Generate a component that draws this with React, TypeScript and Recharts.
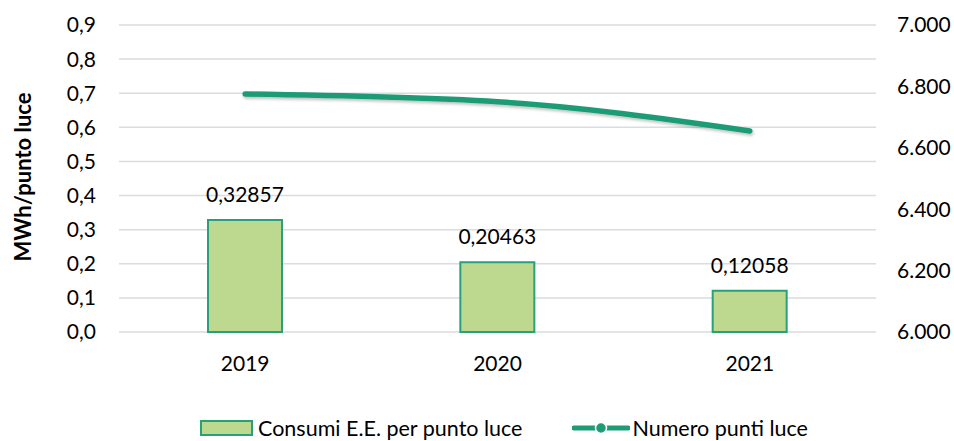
import React from 'react';
import {
  ComposedChart,
  Bar,
  Line,
  XAxis,
  YAxis,
  CartesianGrid,
  Legend,
  LabelList,
} from 'recharts';

const categories = ['2019', '2020', '2021'];
const consumiPerPunto = [0.32857, 0.20463, 0.12058];
const numeroPunti = [6775, 6750, 6655];
const leftTicks = [0, 0.1, 0.2, 0.3, 0.4, 0.5, 0.6, 0.7, 0.8, 0.9];
const rightTicks = [6000, 6200, 6400, 6600, 6800, 7000];

const data = categories.map((c, i) => ({
  year: c,
  consumi: consumiPerPunto[i],
  punti: numeroPunti[i],
}));

const FONT = 'Lato, "Open Sans", sans-serif';
const BAR_FILL = '#BDD98F';
const BAR_STROKE = '#2AA07A';
const LINE_COLOR = '#1F9C76';
const GRID = '#D9DCE0';
const FS = 21;

const fmtLeft = (v: number) => v.toFixed(1).replace('.', ',');
const fmtRight = (v: number) =>
  String(v).replace(/\B(?=(\d{3})+(?!\d))/g, '.');
const fmtLabel = (v: any) => String(v).replace('.', ',');

const LegendContent = () => (
  <div
    style={{
      height: 40,
      display: 'flex',
      alignItems: 'center',
      paddingTop: 14,
      boxSizing: 'border-box',
      paddingLeft: 200,
      fontFamily: FONT,
      fontSize: 21.5,
      color: '#000',
      lineHeight: '26px',
      whiteSpace: 'nowrap',
      overflow: 'visible',
    }}
  >
    <svg width={53} height={16} style={{ marginRight: 5, flexShrink: 0 }}>
      <rect x={1} y={1} width={51} height={14} fill={BAR_FILL} stroke={BAR_STROKE} strokeWidth={2} />
    </svg>
    <span>Consumi E.E. per punto luce</span>
    <svg width={58} height={16} style={{ marginLeft: 50, marginRight: 2, flexShrink: 0 }}>
      <line x1={2} y1={8} x2={56} y2={8} stroke={LINE_COLOR} strokeWidth={5} strokeLinecap="round" />
      <circle cx={29} cy={8} r={5.5} fill={LINE_COLOR} stroke="#fff" strokeWidth={1.5} />
    </svg>
    <span>Numero punti luce</span>
  </div>
);

const YLabel = () => (
  <text
    x={22}
    y={177}
    transform="rotate(-90, 22, 177)"
    textAnchor="middle"
    dominantBaseline="central"
    fontFamily={FONT}
    fontWeight="bold"
    fontSize={22}
    fill="#000"
  >
    MWh/punto luce
  </text>
);

export default function App() {
  return (
    <div style={{ position: 'absolute', left: 0, top: 0, background: '#fff' }}>
      <ComposedChart
        width={954}
        height={441}
        data={data}
        margin={{ top: 25, right: 0, bottom: 0, left: 0 }}
        barCategoryGap={0}
      >
        <defs>
          <filter id="lineShadow" x="-10%" y="-50%" width="120%" height="200%">
            <feDropShadow dx="1" dy="2" stdDeviation="1.5" floodColor="#000" floodOpacity="0.25" />
          </filter>
        </defs>
        <CartesianGrid yAxisId="left" vertical={false} stroke={GRID} strokeWidth={1.5} />
        <XAxis
          dataKey="year"
          axisLine={false}
          tickLine={false}
          tickSize={0}
          tickMargin={24}
          height={69}
          tick={{ fontFamily: FONT, fontSize: FS, fill: '#000' }}
        />
        <YAxis
          yAxisId="left"
          orientation="left"
          width={119}
          domain={[0, 0.9]}
          ticks={leftTicks}
          tickFormatter={fmtLeft}
          axisLine={false}
          tickLine={false}
          tickSize={0}
          tickMargin={23}
          interval={0}
          tick={{ fontFamily: FONT, fontSize: FS, fill: '#000' }}
          label={<YLabel />}
        />
        <YAxis
          yAxisId="right"
          orientation="right"
          width={78}
          domain={[6000, 7000]}
          ticks={rightTicks}
          tickFormatter={fmtRight}
          axisLine={false}
          tickLine={false}
          tickSize={0}
          tickMargin={21}
          interval={0}
          tick={{ fontFamily: FONT, fontSize: FS, fill: '#000', textAnchor: 'start' }}
        />
        <Bar
          yAxisId="left"
          dataKey="consumi"
          name="Consumi E.E. per punto luce"
          barSize={74}
          fill={BAR_FILL}
          stroke={BAR_STROKE}
          strokeWidth={2}
          isAnimationActive={false}
        >
          <LabelList
            dataKey="consumi"
            position="top"
            offset={18}
            formatter={fmtLabel}
            style={{ fontFamily: FONT, fontSize: FS, fill: '#000' }}
          />
        </Bar>
        <Line
          yAxisId="right"
          dataKey="punti"
          name="Numero punti luce"
          type="monotone"
          stroke={LINE_COLOR}
          strokeWidth={5.5}
          strokeLinecap="round"
          dot={false}
          activeDot={false}
          filter="url(#lineShadow)"
          isAnimationActive={false}
        />
        <Legend content={<LegendContent />} verticalAlign="bottom" height={40} />
      </ComposedChart>
    </div>
  );
}
